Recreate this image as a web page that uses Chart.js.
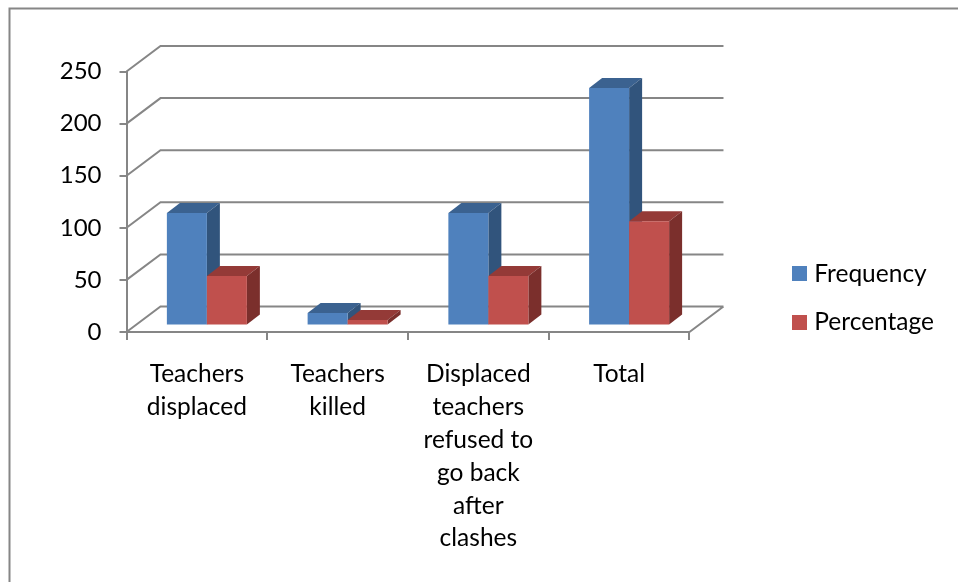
<!DOCTYPE html>
<html><head><meta charset="utf-8">
<style>html,body{margin:0;padding:0;background:#fff}canvas{display:block}</style>
<script src="https://cdn.jsdelivr.net/npm/chart.js@4/dist/chart.umd.min.js"></script>
</head><body>
<div style="width:958px;height:582px"><canvas id="c" width="958" height="582"></canvas></div>
<script>
const categories = [["Teachers","displaced"],["Teachers","killed"],["Displaced","teachers","refused to","go back","after","clashes"],["Total"]];
const frequency = [108, 12, 108, 228];
const percentage = [47.4, 5.3, 47.4, 100];
const yTicks = [0, 50, 100, 150, 200, 250];
const seriesNames = ["Frequency", "Percentage"];

const FONT = "Lato, Carlito, Calibri, sans-serif";
const GRID = "#868686";
const WALL = {dx: 34, dy: -25.5};
const BAR_SHIFT = {dx: 10, dy: -6.5};
const DEPTH = {dx: 13, dy: -10};
const SHADES = [{top:"#3b6290", side:"#31547c"},{top:"#943a37", side:"#7b2f2c"}];
const COLORS = ["#4f81bd", "#c0504d"];

function swatch(color){
  const c = document.createElement("canvas"); c.width = 15; c.height = 15;
  const g = c.getContext("2d"); g.fillStyle = color; g.fillRect(0,0,15,15);
  return c;
}
const swatches = COLORS.map(swatch);

function drawSeries(chart, index){
  const g = chart.ctx, meta = chart.getDatasetMeta(index), s = SHADES[index];
  g.save();
  g.translate(BAR_SHIFT.dx, BAR_SHIFT.dy);
  meta.data.forEach(b => {
    const w = b.width, l = b.x - w/2, r = b.x + w/2, t = b.y, base = b.base;
    g.fillStyle = s.top;
    g.beginPath(); g.moveTo(l,t); g.lineTo(r,t); g.lineTo(r+DEPTH.dx,t+DEPTH.dy); g.lineTo(l+DEPTH.dx,t+DEPTH.dy); g.closePath(); g.fill();
    g.fillStyle = s.side;
    g.beginPath(); g.moveTo(r,t); g.lineTo(r+DEPTH.dx,t+DEPTH.dy); g.lineTo(r+DEPTH.dx,base+DEPTH.dy); g.lineTo(r,base); g.closePath(); g.fill();
  });
  meta.controller.draw();
  g.restore();
}

const scene = {
  id: "scene",
  afterLayout(chart){
    const l = chart.legend;
    l.left = 773; l.right = 958; l.top = 237.5; l.bottom = 420;
  },
  beforeDraw(chart){
    const g = chart.ctx;
    g.save(); g.strokeStyle = GRID; g.lineWidth = 2;
    g.beginPath(); g.moveTo(9.5,590); g.lineTo(9.5,8.5); g.lineTo(960,8.5); g.stroke();
    g.restore();
  },
  beforeDatasetsDraw(chart){
    const g = chart.ctx, y = chart.scales.y, a = chart.chartArea;
    g.save(); g.strokeStyle = GRID; g.lineWidth = 2;
    g.beginPath();
    y.ticks.forEach(t => {
      const py = y.getPixelForValue(t.value);
      g.moveTo(a.left, py); g.lineTo(a.left + WALL.dx, py + WALL.dy); g.lineTo(a.right + WALL.dx, py + WALL.dy);
    });
    const y0 = y.getPixelForValue(0);
    g.moveTo(a.right + WALL.dx, y0 + WALL.dy); g.lineTo(a.right, y0);
    g.stroke(); g.restore();
    drawSeries(chart, 0);
    drawSeries(chart, 1);
  },
  beforeDatasetDraw(){ return false; }
};

new Chart(document.getElementById("c"), {
  type: "bar",
  plugins: [scene],
  data: {
    labels: categories,
    datasets: [
      {label: seriesNames[0], data: frequency, backgroundColor: COLORS[0]},
      {label: seriesNames[1], data: percentage, backgroundColor: COLORS[1]}
    ]
  },
  options: {
    responsive: false, animation: false,
    layout: {padding: {top: 71.5, right: 97.5, left: 0, bottom: 30}},
    datasets: {bar: {barPercentage: 1, categoryPercentage: 0.5684, borderWidth: 0}},
    plugins: {
      title: {display: false}, tooltip: {enabled: false},
      legend: {
        position: "right", align: "start",
        labels: {
          color: "#000", padding: 24, boxWidth: 5, boxHeight: 15, usePointStyle: true,
          font: {family: FONT, size: 24.5},
          generateLabels(chart){
            return chart.data.datasets.map((d, i) => ({
              text: d.label, datasetIndex: i, fillStyle: d.backgroundColor,
              strokeStyle: d.backgroundColor, lineWidth: 0, pointStyle: swatches[i], hidden: false
            }));
          }
        }
      }
    },
    scales: {
      x: {
        afterFit(s){ s.height = 220; },
        border: {display: true, color: GRID, width: 2},
        grid: {display: true, drawOnChartArea: false, drawTicks: true, tickLength: 8, color: GRID, lineWidth: 2},
        ticks: {color: "#000", padding: 18, maxRotation: 0, minRotation: 0, autoSkip: false, font: {family: FONT, size: 24.5, lineHeight: 1.34}}
      },
      y: {
        min: 0, max: 250,
        afterFit(s){ s.width = 126.5; },
        afterBuildTicks(s){ s.ticks = yTicks.map(v => ({value: v})); },
        border: {display: true, color: GRID, width: 2},
        grid: {display: true, drawOnChartArea: false, drawTicks: true, tickLength: 7, color: GRID, lineWidth: 2},
        ticks: {color: "#000", padding: 18, font: {family: FONT, size: 24}}
      }
    }
  }
});
</script>
</body></html>
